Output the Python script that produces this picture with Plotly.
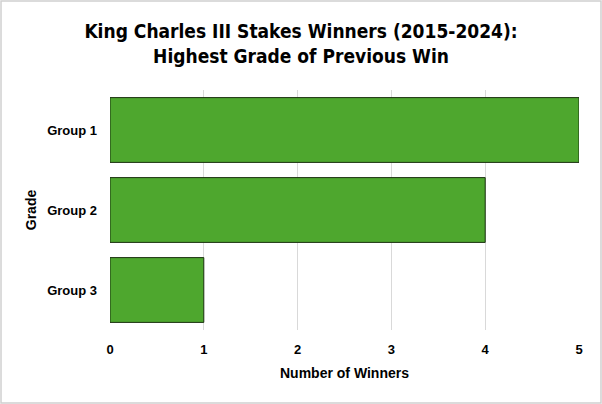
import plotly.graph_objects as go

# Données
grades = ["Group 1", "Group 2", "Group 3"]
winners = [5, 4, 1]
x_ticks = [0, 1, 2, 3, 4, 5]

fig = go.Figure()

fig.add_trace(go.Bar(
    x=winners,
    y=grades,
    orientation="h",
    marker=dict(color="#4ea72e", line=dict(color="#1b3010", width=1)),
    hoverinfo="x+y",
))

fig.update_layout(
    width=602,
    height=404,
    paper_bgcolor="white",
    plot_bgcolor="white",
    margin=dict(l=110, r=23, t=90, b=74),
    bargap=0.19,
    showlegend=False,
    title=dict(
        text="<b>King Charles III Stakes Winners (2015-2024):<br>Highest Grade of Previous Win</b>",
        x=0.5, xanchor="center",
        y=0.906, yanchor="top",
        font=dict(family="DejaVu Sans Condensed, DejaVu Sans, sans-serif", size=19, color="black"),
    ),
    xaxis=dict(
        range=[0, 5],
        tickvals=x_ticks,
        showgrid=True,
        gridcolor="#d9d9d9",
        gridwidth=1,
        zeroline=False,
        showline=False,
        ticks="",
        ticklabelstandoff=10,
        tickfont=dict(family="Liberation Sans, Arial, sans-serif", size=13, color="black", weight="bold"),
        title=dict(text="<b>Number of Winners</b>", standoff=12,
                   font=dict(family="Liberation Sans, Arial, sans-serif", size=14, color="black")),
    ),
    yaxis=dict(
        categoryorder="array",
        categoryarray=grades[::-1],
        showgrid=False,
        zeroline=False,
        showline=False,
        ticks="",
        ticklabelstandoff=12,
        tickfont=dict(family="Liberation Sans, Arial, sans-serif", size=13, color="black", weight="bold"),
        title=dict(text="<b>Grade</b>", standoff=7,
                   font=dict(family="Liberation Sans, Arial, sans-serif", size=14, color="black")),
    ),
    shapes=[dict(type="rect", xref="paper", yref="paper", x0=-0.2324, x1=1.0469, y0=-0.304, y1=1.371,
                 line=dict(color="#d0d0d0", width=1.5), layer="below")],
)

fig.write_html("out.html", config={"displayModeBar": False},
               post_script="document.body.style.margin='0';")
